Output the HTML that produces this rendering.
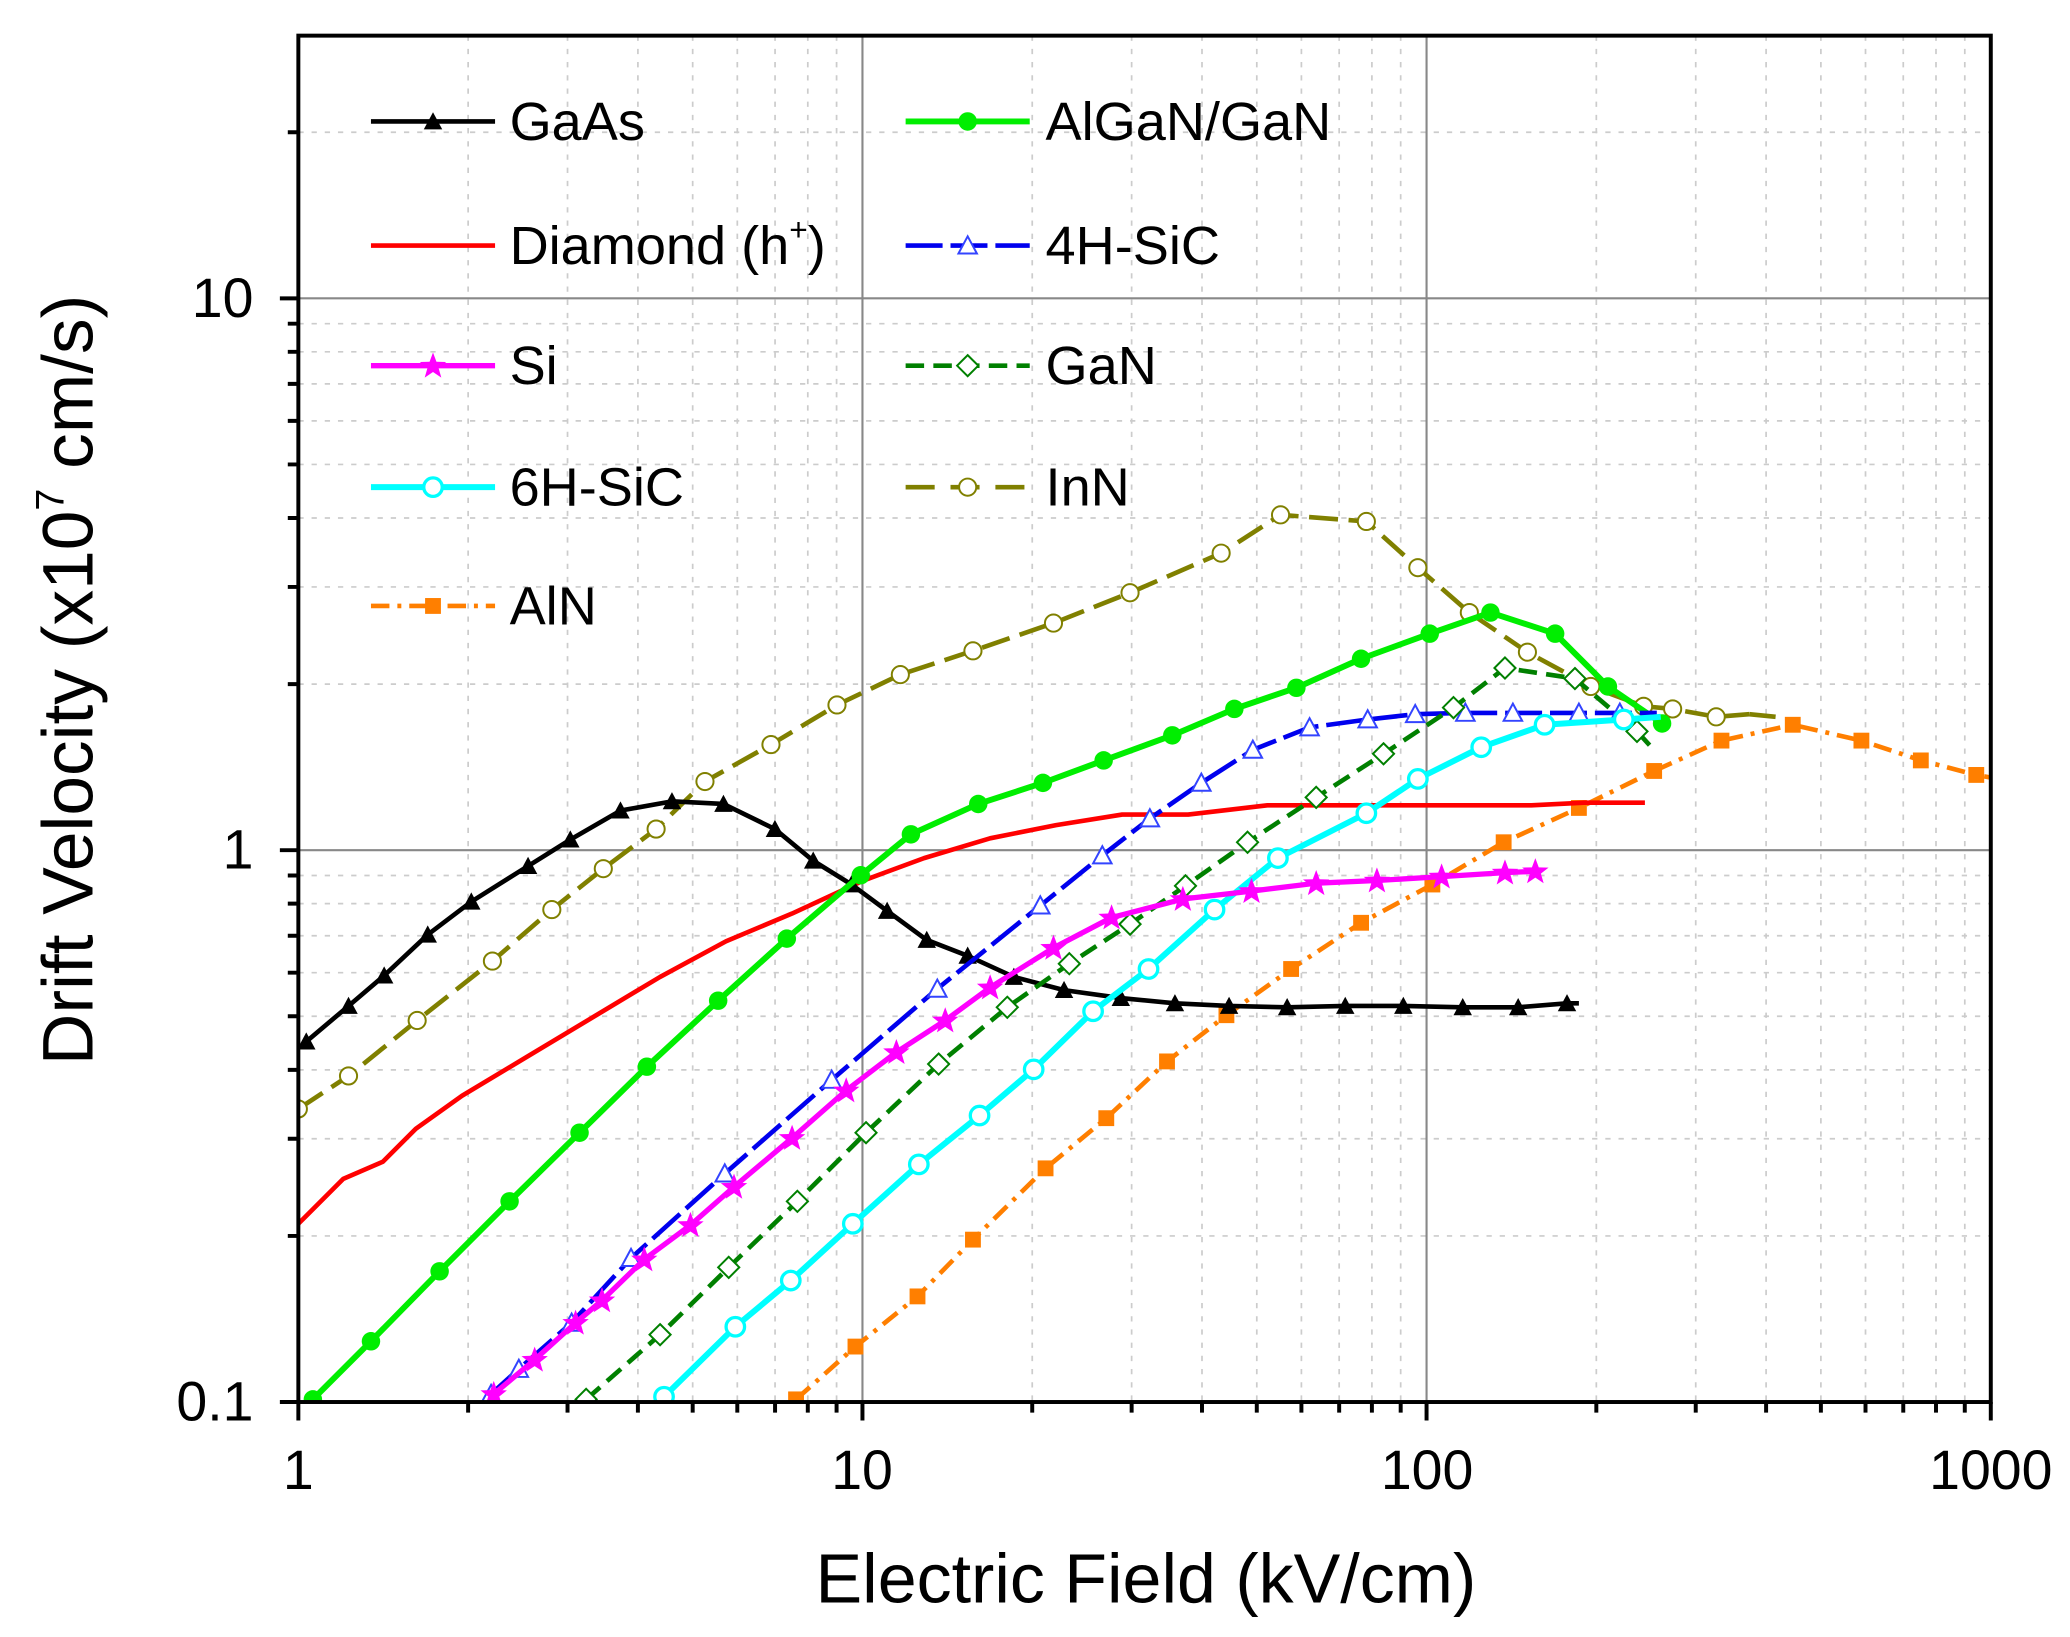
<!DOCTYPE html>
<html><head><meta charset="utf-8"><style>
html,body{margin:0;padding:0;background:#fff;}
svg{display:block;}
text{font-family:"Liberation Sans",Arial,sans-serif;}
</style></head><body>
<svg width="2070" height="1637" viewBox="0 0 1568 1240" preserveAspectRatio="none" xmlns="http://www.w3.org/2000/svg">
<defs>
<marker id="tri" markerUnits="userSpaceOnUse" markerWidth="20" markerHeight="20" refX="10" refY="10"><path d="M10 3 L17 16 L3 16 Z" fill="#000"/></marker>
<marker id="gdot" markerUnits="userSpaceOnUse" markerWidth="20" markerHeight="20" refX="10" refY="10"><circle cx="10" cy="10" r="7" fill="#00ee00"/></marker>
<marker id="otri" markerUnits="userSpaceOnUse" markerWidth="20" markerHeight="20" refX="10" refY="10"><path d="M10 3 L17 16 L3 16 Z" fill="#fff" stroke="#3344ff" stroke-width="1.5"/></marker>
<marker id="star" markerUnits="userSpaceOnUse" markerWidth="24" markerHeight="24" refX="12" refY="12"><path d="M12 2 L14.6 9 L22 9.2 L16.2 13.8 L18.3 21 L12 16.8 L5.7 21 L7.8 13.8 L2 9.2 L9.4 9 Z" fill="#ff00ff"/></marker>
<marker id="odia" markerUnits="userSpaceOnUse" markerWidth="20" markerHeight="20" refX="10" refY="10"><path d="M10 2 L18 10 L10 18 L2 10 Z" fill="#fff" stroke="#008000" stroke-width="1.5"/></marker>
<marker id="ocyan" markerUnits="userSpaceOnUse" markerWidth="20" markerHeight="20" refX="10" refY="10"><circle cx="10" cy="10" r="7" fill="#fff" stroke="#00ffff" stroke-width="2.5"/></marker>
<marker id="oolive" markerUnits="userSpaceOnUse" markerWidth="20" markerHeight="20" refX="10" refY="10"><circle cx="10" cy="10" r="6.5" fill="#fff" stroke="#808000" stroke-width="1.5"/></marker>
<marker id="sq" markerUnits="userSpaceOnUse" markerWidth="20" markerHeight="20" refX="10" refY="10"><rect x="4" y="4" width="12" height="12" fill="#ff7f00"/></marker>
<clipPath id="pc"><rect x="226" y="27" width="1282" height="1035"/></clipPath>
</defs>

<g stroke="#ccc" stroke-width="1.3" stroke-dasharray="4,6">
<path d="M354.6 27V1062M429.9 27V1062M483.2 27V1062M524.7 27V1062M558.5 27V1062M587.1 27V1062M611.9 27V1062M633.7 27V1062
M781.9 27V1062M857.2 27V1062M910.5 27V1062M952 27V1062M985.8 27V1062M1014.4 27V1062M1039.2 27V1062M1061 27V1062
M1209.2 27V1062M1284.5 27V1062M1337.8 27V1062M1379.3 27V1062M1413.1 27V1062M1441.7 27V1062M1466.5 27V1062M1488.3 27V1062
M226 936.2H1508M226 862.6H1508M226 810.4H1508M226 769.8H1508M226 736.8H1508M226 708.8H1508M226 684.5H1508M226 663.2H1508
M226 518.2H1508M226 444.6H1508M226 392.4H1508M226 351.8H1508M226 318.8H1508M226 290.8H1508M226 266.5H1508M226 245.2H1508
M226 100.2H1508"/>
</g>
<g stroke="#888" stroke-width="1.6">
<path d="M653.3 27V1062M1080.6 27V1062M226 226H1508M226 644H1508"/>
</g>

<g clip-path="url(#pc)" fill="none" stroke-linejoin="round">
<polyline stroke="#808000" stroke-width="3.5" stroke-dasharray="22,8" marker-start="url(#oolive)" marker-mid="url(#oolive)" points="226,840 264,815 316,773 373,728 418,689 457,658 497,628 534,592 584,564 634,534 682,511 737,493 798,472 856,449 925,419 970,390 1035,395 1074,430 1113,464 1157,494 1205,520 1245,535 1267,537 1300,543 1325,541"/>
<polyline stroke="#808000" stroke-width="3.5" points="1325,541 1345,543"/>
<polyline stroke="#ff7f00" stroke-width="3.5" stroke-dasharray="14,6,3,6" marker-start="url(#sq)" marker-mid="url(#sq)" points="603,1060 648,1020 695,982 737,939 792,885 838,847 884,804 929,769 978,734 1031,699 1085,670 1139,638 1196,612 1253,584 1304,561 1358,549 1410,561 1455,576 1497,587 1508,589"/>
<polyline stroke="#ff0000" stroke-width="3.5" points="226,927 260,893 290,880 315,855 350,830 400,800 450,770 500,740 550,713 600,692 654,667 700,650 750,635 800,625 850,617 900,617 960,610 1000,610 1100,610 1160,610 1200,608 1246,608"/>
<polyline stroke="#000" stroke-width="3.5" marker-start="url(#tri)" marker-mid="url(#tri)" points="232,789 264,762 291,739 324,708 357,683 400,656 432,636 470,614 509,607 548,609 587,628 616,652 645,670 672,690 702,712 733,724 768,740 806,750 849,756 890,760 931,762 975,763 1019,762 1063,762 1108,763 1150,763 1187,760 1196,760"/>
<polyline stroke="#00ee00" stroke-width="4.5" marker-start="url(#gdot)" marker-mid="url(#gdot)" marker-end="url(#gdot)" points="237,1060 281,1016 333,963 386,910 439,858 490,808 544,758 596,711 652,663 690,632 741,609 790,593 836,576 888,557 935,537 982,521 1031,499 1083,480 1129,464 1178,480 1218,520 1259,548"/>
<polyline stroke="#0000ee" stroke-width="3.5" stroke-dasharray="28,6" marker-start="url(#otri)" marker-mid="url(#otri)" points="372,1056 393,1037 433,1002 478,953 549,889 630,818 710,749 788,686 835,648 871,620 910,593 949,568 992,551 1036,545 1072,541 1110,540 1146,540 1196,540 1227,540 1255,540"/>
<polyline stroke="#008000" stroke-width="3.5" stroke-dasharray="14,7" marker-start="url(#odia)" marker-mid="url(#odia)" points="444,1060 500,1011 552,960 604,910 656,858 711,806 763,763 810,730 856,700 898,671 945,638 997,604 1048,571 1101,536 1140,506 1193,514 1240,554 1250,565"/>
<polyline stroke="#00ffff" stroke-width="4.5" marker-start="url(#ocyan)" marker-mid="url(#ocyan)" points="503,1058 557,1005 599,970 646,927 696,882 742,845 783,810 828,766 870,734 920,689 968,650 1035,616 1074,590 1122,566 1170,549 1230,545 1258,543"/>
<polyline stroke="#ff00ff" stroke-width="4" marker-start="url(#star)" marker-mid="url(#star)" marker-end="url(#star)" points="374,1056 405,1030 436,1002 456,985 488,954 523,928 556,899 600,862 641,826 679,797 716,773 750,748 798,718 842,695 896,681 948,675 997,669 1043,667 1092,664 1140,661 1163,660"/>
</g>

<rect x="226" y="27" width="1282" height="1035" fill="none" stroke="#000" stroke-width="3"/>
<g stroke="#000" stroke-width="3">
<path d="M226 1062v14M653.3 1062v14M1080.6 1062v14M1508 1062v14"/>
<path d="M354.6 1062v8M429.9 1062v8M483.2 1062v8M524.7 1062v8M558.5 1062v8M587.1 1062v8M611.9 1062v8M633.7 1062v8M781.9 1062v8M857.2 1062v8M910.5 1062v8M952 1062v8M985.8 1062v8M1014.4 1062v8M1039.2 1062v8M1061 1062v8M1209.2 1062v8M1284.5 1062v8M1337.8 1062v8M1379.3 1062v8M1413.1 1062v8M1441.7 1062v8M1466.5 1062v8M1488.3 1062v8"/>
<path d="M226 1062h-14M226 644h-14M226 226h-14"/>
<path d="M226 936.2h-8M226 862.6h-8M226 810.4h-8M226 769.8h-8M226 736.8h-8M226 708.8h-8M226 684.5h-8M226 663.2h-8M226 518.2h-8M226 444.6h-8M226 392.4h-8M226 351.8h-8M226 318.8h-8M226 290.8h-8M226 266.5h-8M226 245.2h-8M226 100.2h-8"/>
</g>

<g font-size="42" fill="#000">
<text x="192" y="240" text-anchor="end">10</text>
<text x="192" y="658" text-anchor="end">1</text>
<text x="192" y="1076" text-anchor="end">0.1</text>
<text x="226" y="1128" text-anchor="middle">1</text>
<text x="653" y="1128" text-anchor="middle">10</text>
<text x="1081" y="1128" text-anchor="middle">100</text>
<text x="1508" y="1128" text-anchor="middle">1000</text>
</g>
<text x="868" y="1214" font-size="53" text-anchor="middle">Electric Field (kV/cm)</text>
<text transform="translate(70,515) rotate(-90)" font-size="54" text-anchor="middle">Drift Velocity (x10<tspan font-size="30" dy="-22">7</tspan><tspan dy="22"> cm/s)</tspan></text>

<g fill="none">
<line x1="281" y1="92" x2="375" y2="92" stroke="#000" stroke-width="3.5"/>
<line x1="686" y1="92" x2="780" y2="92" stroke="#00ee00" stroke-width="4.5"/>
<line x1="281" y1="186" x2="375" y2="186" stroke="#ff0000" stroke-width="3.5"/>
<line x1="686" y1="186" x2="780" y2="186" stroke="#0000ee" stroke-width="3.5" stroke-dasharray="28,6"/>
<line x1="281" y1="277" x2="375" y2="277" stroke="#ff00ff" stroke-width="4"/>
<line x1="686" y1="277" x2="780" y2="277" stroke="#008000" stroke-width="3.5" stroke-dasharray="14,7"/>
<line x1="281" y1="369" x2="375" y2="369" stroke="#00ffff" stroke-width="4.5"/>
<line x1="686" y1="369" x2="780" y2="369" stroke="#808000" stroke-width="3.5" stroke-dasharray="22,12"/>
<line x1="281" y1="459" x2="375" y2="459" stroke="#ff7f00" stroke-width="3.5" stroke-dasharray="14,6,3,6"/>
</g>
<g>
<path d="M328 85 L335 98 L321 98 Z" fill="#000"/>
<circle cx="733" cy="92" r="7" fill="#00ee00"/>
<path d="M733 179 L740 192 L726 192 Z" fill="#fff" stroke="#3344ff" stroke-width="1.5"/>
<path d="M328 267 L330.6 274 L338 274.2 L332.2 278.8 L334.3 286 L328 281.8 L321.7 286 L323.8 278.8 L318 274.2 L325.4 274 Z" fill="#ff00ff"/>
<path d="M733 269 L741 277 L733 285 L725 277 Z" fill="#fff" stroke="#008000" stroke-width="1.5"/>
<circle cx="328" cy="369" r="7" fill="#fff" stroke="#00ffff" stroke-width="2.5"/>
<circle cx="733" cy="369" r="6.5" fill="#fff" stroke="#808000" stroke-width="1.5"/>
<rect x="322" y="453" width="12" height="12" fill="#ff7f00"/>
</g>
<g font-size="41" fill="#000">
<text x="386" y="106">GaAs</text>
<text x="792" y="106">AlGaN/GaN</text>
<text x="386" y="200">Diamond (h<tspan font-size="24" dy="-18">+</tspan><tspan dy="18">)</tspan></text>
<text x="792" y="200">4H-SiC</text>
<text x="386" y="291">Si</text>
<text x="792" y="291">GaN</text>
<text x="386" y="383">6H-SiC</text>
<text x="792" y="383">InN</text>
<text x="386" y="473">AlN</text>
</g>
</svg>
</body></html>
